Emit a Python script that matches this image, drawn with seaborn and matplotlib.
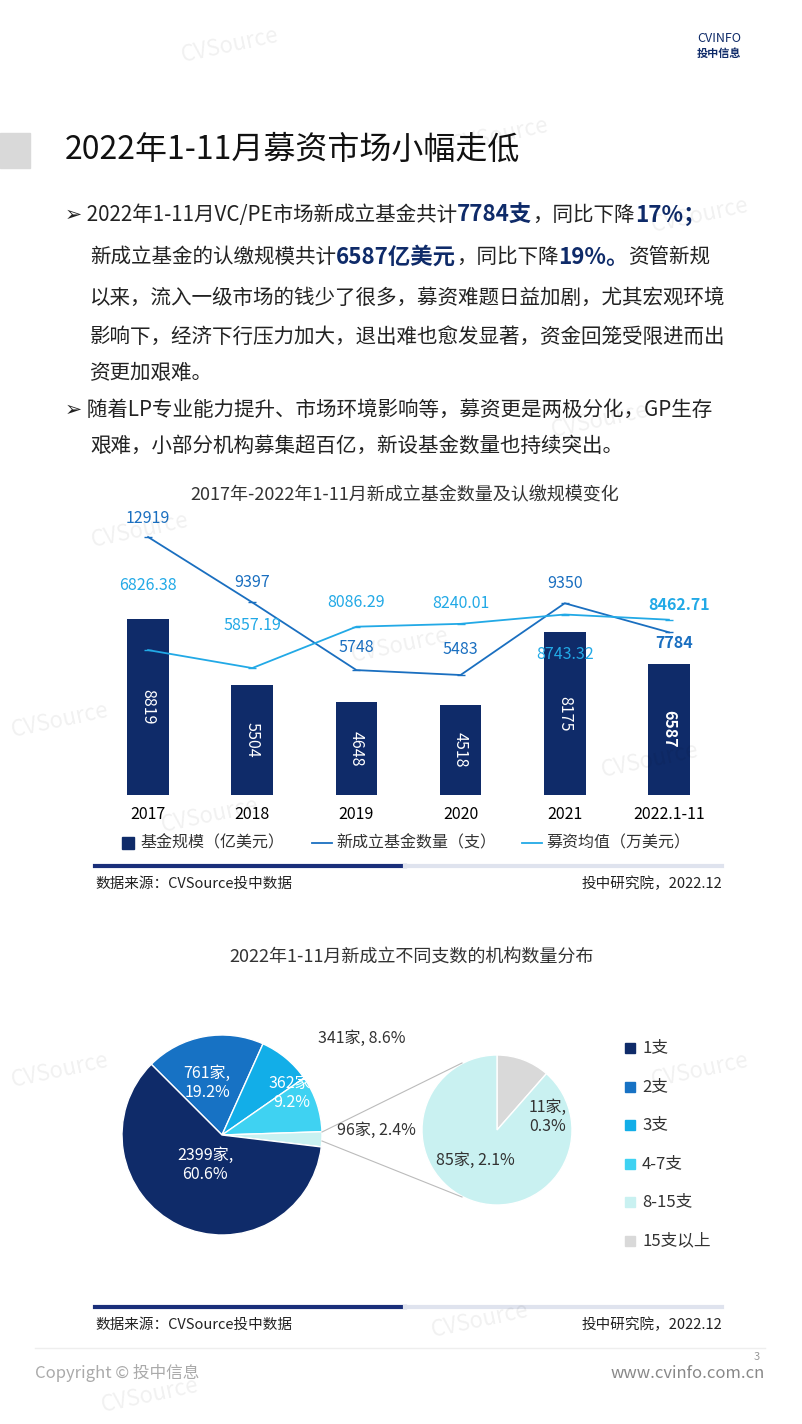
import matplotlib
matplotlib.use("Agg")
import matplotlib.pyplot as plt
import seaborn as sns
import numpy as np
from matplotlib.patches import Rectangle
from matplotlib.lines import Line2D

FONT = ["Noto Sans CJK SC", "DejaVu Sans"]
plt.rcParams["font.family"] = FONT

W, H = 802, 1424
NAVY = "#0f2b69"

years = ["2017", "2018", "2019", "2020", "2021", "2022.1-11"]
fund_scale = [8819, 5504, 4648, 4518, 8175, 6587]
fund_count = [12919, 9397, 5748, 5483, 9350, 7784]
avg_raise = [6826.38, 5857.19, 8086.29, 8240.01, 8743.32, 8462.71]

pie_labels = ["1支", "2支", "3支", "4-7支", "8-15支", "15支以上"]
pie_colors = ["#0f2b69", "#1772c4", "#12aee8", "#3fd2f2", "#c9f1f1", "#d9d9d9"]
main_pie = [761, 341, 362, 96, 2399]
sub_pie = [11, 85]

fig = plt.figure(figsize=(W / 100, H / 100), dpi=100)


def fx(x):
    return x / W


def fy(y):
    return 1 - y / H


def ax_at(x0, y0, x1, y1):
    return fig.add_axes([fx(x0), fy(y1), (x1 - x0) / W, (y1 - y0) / H])


def hline(x0, x1, y, color, lw):
    fig.add_artist(Line2D([fx(x0), fx(x1)], [fy(y)] * 2, color=color, lw=lw,
                          transform=fig.transFigure))


def box(x, y, w, h, color):
    fig.add_artist(Rectangle((fx(x), fy(y + h)), w / W, h / H, transform=fig.transFigure,
                             color=color))


def rich(x, y, parts, size=14.8):
    r = fig.canvas.get_renderer()
    cx = x
    for s, bold in parts:
        t = fig.text(fx(cx), fy(y), s, fontsize=(size + 1.3) if bold else size,
                     color=NAVY if bold else "#222222",
                     fontweight="bold" if bold else "normal", va="center")
        cx += t.get_window_extent(renderer=r).width


# header
box(0, 133, 30, 35, "#d9d9d9")
fig.text(fx(65), fy(150), "2022年1-11月募资市场小幅走低", fontsize=23, va="center", color="#111")
fig.text(fx(697), fy(38), "CVINFO", fontsize=9, color=NAVY, va="center")
fig.text(fx(697), fy(53), "投中信息", fontsize=8, color=NAVY, va="center", fontweight="bold")

rich(65, 215, [("➢ 2022年1-11月VC/PE市场新成立基金共计", False), ("7784支", True),
               ("，同比下降", False), ("17%；", True)])
rich(90, 257, [("新成立基金的认缴规模共计", False), ("6587亿美元", True),
               ("，同比下降", False), ("19%。", True), ("资管新规", False)])
rich(90, 298, [("以来，流入一级市场的钱少了很多，募资难题日益加剧，尤其宏观环境", False)])
rich(90, 337, [("影响下，经济下行压力加大，退出难也愈发显著，资金回笼受限进而出", False)])
rich(90, 373, [("资更加艰难。", False)])
rich(65, 410, [("➢ 随着LP专业能力提升、市场环境影响等，募资更是两极分化，GP生存", False)])
rich(90, 446, [("艰难，小部分机构募集超百亿，新设基金数量也持续突出。", False)])

# chart 1
fig.text(fx(405), fy(495), "2017年-2022年1-11月新成立基金数量及认缴规模变化", fontsize=13,
         ha="center", va="center", color="#333")
ax = ax_at(96, 510, 721, 795)
x = np.arange(len(years))
sns.barplot(x=x, y=fund_scale, color=NAVY, width=0.4, ax=ax, saturation=1)
ax.set_xlim(-0.5, 5.5)
ax.set_ylim(0, 14280)
for i, v in enumerate(fund_scale):
    ax.text(i, v / 2, str(v), rotation=-90, color="white", ha="center", va="center",
            fontsize=11.5, fontweight="bold" if i == 5 else "normal")
ax.set_xticks(x)
ax.set_xticklabels(years, fontsize=11.5)
ax.tick_params(length=0, pad=8)
ax.set_yticks([])
ax.set_ylabel("")
sns.despine(ax=ax, left=True, bottom=True)
ax.patch.set_alpha(0)

ax2 = ax.twinx()
ax2.set_ylim(-982, 14374)
ax2.plot(x, fund_count, color="#1a6fc0", lw=1.3, marker="_", ms=6)
ax2.plot(x, avg_raise, color="#22a9e6", lw=1.3, marker="_", ms=6)
ax2.set_yticks([])
for s in ax2.spines.values():
    s.set_visible(False)
cnt_off = [(0, 1020), (0, 1080), (0, 1240), (0, 1350), (0, 1080), (0.05, -600)]
avg_off = [(0, 3500), (0, 2300), (0, 1300), (0, 1080), (0, -2150), (0.1, 800)]
for i in range(6):
    ax2.text(i + cnt_off[i][0], fund_count[i] + cnt_off[i][1], f"{fund_count[i]}",
             ha="center", va="center", fontsize=11.5, color="#1a6fc0",
             fontweight="bold" if i == 5 else "normal")
    ax2.text(i + avg_off[i][0], avg_raise[i] + avg_off[i][1], f"{avg_raise[i]:.2f}",
             ha="center", va="center", fontsize=11.5, color="#22a9e6",
             fontweight="bold" if i == 5 else "normal")

box(122, 837, 12, 12, NAVY)
fig.text(fx(140), fy(843), "基金规模（亿美元）", fontsize=11.5, va="center", color="#333")
hline(312, 332, 843, "#1a6fc0", 1.3)
fig.text(fx(336), fy(843), "新成立基金数量（支）", fontsize=11.5, va="center", color="#333")
hline(522, 542, 843, "#22a9e6", 1.3)
fig.text(fx(546), fy(843), "募资均值（万美元）", fontsize=11.5, va="center", color="#333")


def source_bar(y):
    hline(95, 405, y, "#1a2f7a", 3)
    hline(405, 722, y, "#dfe3ee", 3)
    fig.text(fx(95), fy(y + 18), "数据来源：CVSource投中数据", fontsize=10.5, va="center", color="#222")
    fig.text(fx(722), fy(y + 18), "投中研究院，2022.12", fontsize=10.5, va="center", ha="right", color="#222")


source_bar(866)

# chart 2
fig.text(fx(412), fy(957), "2022年1-11月新成立不同支数的机构数量分布", fontsize=13,
         ha="center", va="center", color="#333")
pa = ax_at(100, 1010, 600, 1260)
c1 = (222, 1424 - 1135)
c2 = (497, 1424 - 1130)
pa.pie(main_pie, colors=[pie_colors[1], pie_colors[2], pie_colors[3], pie_colors[4], pie_colors[0]],
       startangle=135, counterclock=False, radius=100, center=c1, frame=True,
       wedgeprops=dict(edgecolor="white", linewidth=1))
pa.pie(sub_pie, colors=[pie_colors[5], pie_colors[4]], startangle=90, counterclock=False,
       radius=75, center=c2, frame=True, wedgeprops=dict(edgecolor="white", linewidth=1))
pa.set_xlim(100, 600)
pa.set_ylim(1424 - 1260, 1424 - 1010)
pa.set_aspect("equal")
pa.axis("off")
pa.plot([c1[0] + 100, c2[0] - 35], [c1[1] + 3, c2[1] + 67], color="#bbbbbb", lw=0.8)
pa.plot([c1[0] + 100, c2[0] - 35], [c1[1] - 6, c2[1] - 67], color="#bbbbbb", lw=0.8)


def lab(xp, yp, s, col="white"):
    pa.text(xp, 1424 - yp, s, ha="center", va="center", fontsize=11.5, color=col)


lab(207, 1083, "761家,\n19.2%")
lab(362, 1038, "341家, 8.6%", "#333")
lab(292, 1093, "362家,\n9.2%")
lab(376, 1130, "96家, 2.4%", "#333")
lab(205, 1165, "2399家,\n60.6%")
lab(548, 1117, "11家,\n0.3%", "#333")
lab(475, 1160, "85家, 2.1%", "#333")

for i, (name, col) in enumerate(zip(pie_labels, pie_colors)):
    yy = 1048 + i * 38.5
    box(625, yy - 5, 10, 10, col)
    fig.text(fx(642), fy(yy), name, fontsize=12, va="center", color="#333")

source_bar(1307)

# footer
hline(35, 765, 1348, "#eeeeee", 1)
fig.text(fx(35), fy(1373), "Copyright © 投中信息", fontsize=12, va="center", color="#aaaaaa")
fig.text(fx(765), fy(1373), "www.cvinfo.com.cn", fontsize=12, va="center", ha="right", color="#888")
fig.text(fx(760), fy(1357), "3", fontsize=8, va="center", ha="right", color="#999")

for (wx, wy) in [(230, 45), (500, 135), (700, 215), (600, 420), (140, 530), (400, 645),
                 (650, 760), (210, 815), (60, 720), (60, 1070), (700, 1070), (480, 1320), (150, 1395)]:
    fig.text(fx(wx), fy(wy), "CVSource", fontsize=16, color="#000", alpha=0.06,
             rotation=12, ha="center", va="center")

fig.savefig("out.png", dpi=100)
